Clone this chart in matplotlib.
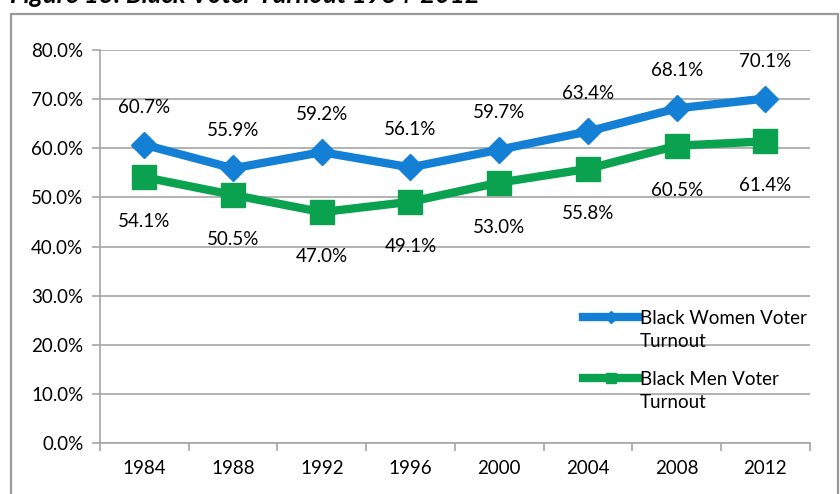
import matplotlib.pyplot as plt
from matplotlib.patches import Rectangle
from matplotlib.ticker import FixedLocator, NullFormatter

plt.rcParams['font.family'] = ['Lato', 'DejaVu Sans']

years = ['1984', '1988', '1992', '1996', '2000', '2004', '2008', '2012']
women = [60.7, 55.9, 59.2, 56.1, 59.7, 63.4, 68.1, 70.1]
men = [54.1, 50.5, 47.0, 49.1, 53.0, 55.8, 60.5, 61.4]

blue = '#1380d6'
green = '#0ba24f'
gray = '#a6a6a6'
fs = 13.5

fig = plt.figure(figsize=(8.4, 4.94), dpi=100)
ax = fig.add_axes([0.119, 0.103, 0.845, 0.796])

# outer frame and heading running off the top
fig.patches.append(Rectangle((11 / 840, -0.05), 827 / 840, 1.05 - 14 / 494,
                             transform=fig.transFigure, fill=False,
                             edgecolor='#9a9a9a', lw=1.6))
fig.text(0.012, 1 - 3 / 494, 'Figure 13: Black Voter Turnout 1984-2012',
         fontsize=18.5, fontweight='bold', fontstyle='italic', va='baseline')

x = range(len(years))
ax.plot(x, women, color=blue, lw=6, marker='D', ms=13, mec=blue,
        label='Black Women Voter\nTurnout', zorder=4)
ax.plot(x, men, color=green, lw=6, marker='s', ms=17, mec=green,
        label='Black Men Voter\nTurnout', zorder=3)

for i, v in enumerate(women):
    ax.annotate(f'{v:.1f}%', (i, v), xytext=(0, 27), textcoords='offset points',
                ha='center', va='center', fontsize=fs)
for i, v in enumerate(men):
    ax.annotate(f'{v:.1f}%', (i, v), xytext=(0, -32), textcoords='offset points',
                ha='center', va='center', fontsize=fs)

ax.set_xlim(-0.5, len(years) - 0.5)
ax.set_ylim(0, 80)
ax.set_yticks(range(0, 81, 10))
ax.set_yticklabels([f'{t:.1f}%' for t in range(0, 81, 10)], fontsize=fs)
ax.set_xticks(list(x))
ax.set_xticklabels(years, fontsize=fs)
ax.tick_params(axis='x', length=0, pad=12)
ax.xaxis.set_minor_locator(FixedLocator([i - 0.5 for i in range(len(years) + 1)]))
ax.xaxis.set_minor_formatter(NullFormatter())
ax.tick_params(axis='x', which='minor', length=6, color=gray, width=1.2)
ax.tick_params(axis='y', length=6, color=gray, width=1.2, pad=6)

ax.grid(axis='y', color=gray, lw=1.2)
ax.set_axisbelow(True)
for s in ['top', 'right']:
    ax.spines[s].set_visible(False)
for s in ['left', 'bottom']:
    ax.spines[s].set_color(gray)
    ax.spines[s].set_linewidth(1.2)

leg = ax.legend(loc='upper left', bbox_to_anchor=(0.67, 0.357), frameon=False,
                fontsize=fs, handlelength=3.0, handletextpad=0.05,
                labelspacing=1.15, markerscale=0.45, borderaxespad=0)
for t in leg.get_texts():
    t.set_linespacing(1.4)
# put each handle level with the first line of its label
for col in leg._legend_handle_box.get_children():
    for row in col.get_children():
        row.align = 'top'

fig.savefig('out.png', dpi=100)
